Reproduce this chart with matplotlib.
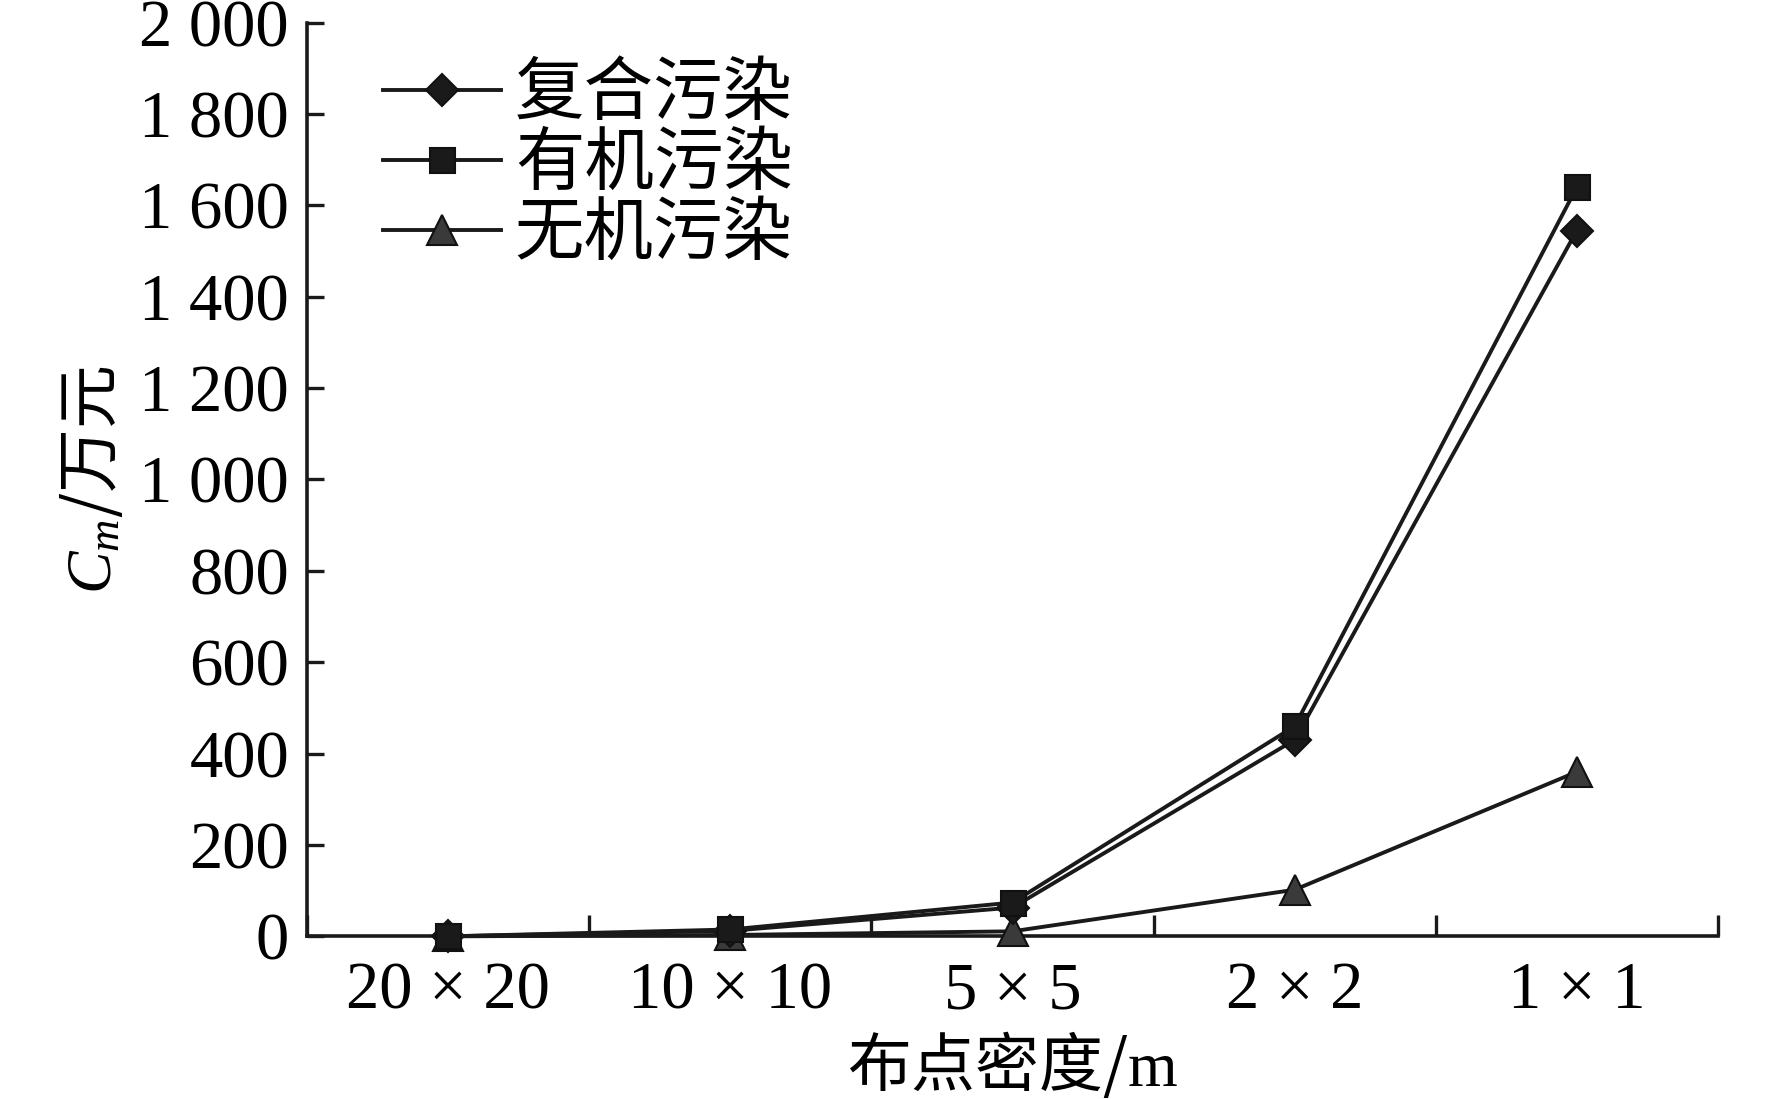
import matplotlib
matplotlib.use("Agg")
import matplotlib.pyplot as plt
from matplotlib.ticker import FixedLocator, FixedFormatter, NullFormatter

plt.rcParams['font.family'] = ['Liberation Serif', 'Noto Sans CJK SC', 'DejaVu Sans']
plt.rcParams['mathtext.fontset'] = 'custom'
plt.rcParams['mathtext.rm'] = 'Liberation Serif'
plt.rcParams['mathtext.it'] = 'Liberation Serif:italic'

# data
densities = ["20 × 20", "10 × 10", "5 × 5", "2 × 2", "1 × 1"]
compound = [0, 12, 63, 430, 1545]     # 复合污染
organic = [0, 15, 74, 460, 1640]      # 有机污染
inorganic = [0, 3, 11, 102, 360]      # 无机污染
yticks = [0, 200, 400, 600, 800, 1000, 1200, 1400, 1600, 1800, 2000]
ytick_labels = [f"{v:,}".replace(",", " ") for v in yticks]

fig = plt.figure(figsize=(17.72, 10.99), dpi=100)
ax = fig.add_axes([0.1733, 0.148, 0.7962, 0.8314])

x = list(range(len(densities)))
line_kw = dict(color='#1a1a1a', lw=2.8, markeredgecolor='#111111', markeredgewidth=1.5, clip_on=False)
h3, = ax.plot(x, inorganic, marker='^', ms=22, markerfacecolor='#3a3a3a', label='无机污染', zorder=3, **line_kw)
h1, = ax.plot(x, compound, marker='D', ms=16, markerfacecolor='#1a1a1a', label='复合污染', zorder=4, **line_kw)
h2, = ax.plot(x, organic, marker='s', ms=18, markerfacecolor='#1a1a1a', label='有机污染', zorder=5, **line_kw)

ax.set_xlim(-0.5, len(densities) - 0.5)
ax.set_ylim(0, 2000)

for s in ['top', 'right']:
    ax.spines[s].set_visible(False)
for s in ['left', 'bottom']:
    ax.spines[s].set_linewidth(2.6)
    ax.spines[s].set_color('#1a1a1a')

# category boundaries as major ticks, names on minor ticks
ax.xaxis.set_major_locator(FixedLocator([i - 0.5 for i in range(len(densities) + 1)]))
ax.xaxis.set_major_formatter(NullFormatter())
ax.xaxis.set_minor_locator(FixedLocator(x))
ax.xaxis.set_minor_formatter(FixedFormatter(densities))
ax.tick_params(axis='x', which='major', direction='in', length=15, width=2.4, color='#1a1a1a')
ax.tick_params(axis='x', which='minor', length=0, pad=18, labelsize=48)

ax.yaxis.set_major_locator(FixedLocator(yticks))
ax.yaxis.set_major_formatter(FixedFormatter(ytick_labels))
ax.tick_params(axis='y', direction='in', length=12, width=2.4, color='#1a1a1a', pad=13, labelsize=48)

ax.set_xlabel("布点密度/$\\mathrm{m}$", fontsize=46, family=['Noto Sans CJK SC'])
ax.xaxis.set_label_coords(0.5, -0.102)
ax.set_ylabel("$C_m$/万元", fontsize=46, family=['Noto Sans CJK SC'])
ax.yaxis.set_label_coords(-0.128, 0.5)

ax.legend(handles=[h1, h2, h3], loc='upper left', bbox_to_anchor=(0.034, 0.985),
          frameon=False, fontsize=50, handlelength=1.7, handletextpad=0.2,
          labelspacing=0.08, borderaxespad=0)

fig.savefig("out.png", dpi=100)
